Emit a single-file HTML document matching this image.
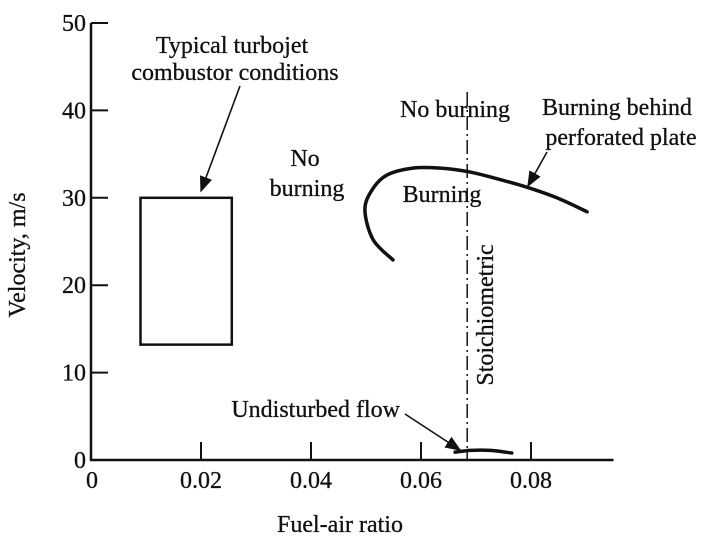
<!DOCTYPE html>
<html><head><meta charset="utf-8"><style>
body{margin:0;background:#fff;}
svg{display:block;font-family:"Liberation Serif",serif;}
text{fill:#111;font-size:24px;stroke:#111;stroke-width:0.3;}
</style></head><body>
<svg id="chart" width="722" height="542" viewBox="0 0 722 542">
<defs><marker id="ah" markerWidth="10" markerHeight="8" refX="9" refY="4" orient="auto"><path d="M0,0 L10,4 L0,8 z" fill="#111"/></marker></defs>
<g id="axes"></g><g id="marks"></g>
<g id="labels">
<text x="232" y="53" text-anchor="middle">Typical turbojet</text>
<text x="235" y="80" text-anchor="middle">combustor conditions</text>
<text x="305" y="166" text-anchor="middle">No</text>
<text x="307" y="196" text-anchor="middle">burning</text>
<text x="455" y="117" text-anchor="middle">No burning</text>
<text x="617" y="115" text-anchor="middle">Burning behind</text>
<text x="621" y="145" text-anchor="middle">perforated plate</text>
<text x="442" y="202" text-anchor="middle">Burning</text>
<text transform="translate(493,315) rotate(-90)" text-anchor="middle">Stoichiometric</text>
<text x="400" y="417" text-anchor="end">Undisturbed flow</text>
<text transform="translate(25,255) rotate(-90)" text-anchor="middle">Velocity, m/s</text>
<text x="340" y="532" text-anchor="middle">Fuel-air ratio</text>
</g>
</svg>
<script>
const xTicks=[0,0.02,0.04,0.06,0.08];
const xTickLabels=["0","0.02","0.04","0.06","0.08"];
const yTicks=[0,10,20,30,40,50];
const yTickLabels=["0","10","20","30","40","50"];
const boxFuel=[0.009,0.0256];
const boxVel=[13.2,30];
const burnFuel=[0.0549,0.0513,0.0498,0.0511,0.0538,0.0585,0.0635,0.0685,0.0731,0.0793,0.0847,0.0902];
const burnVel=[22.9,25.2,28.6,30.9,32.6,33.4,33.4,33.0,32.3,31.2,30.0,28.4];
const flowFuel=[0.0662,0.069,0.0726,0.0765];
const flowVel=[0.9,1.1,1.1,0.8];
const stoich=[0.0684];
const X=v=>91+v*5500, Y=v=>460-v*8.74;
const NS="http://www.w3.org/2000/svg";
const ax=document.getElementById('axes'), mk=document.getElementById('marks');
function el(p,tag,a){const e=document.createElementNS(NS,tag);for(const k in a)e.setAttribute(k,a[k]);p.appendChild(e);return e;}
let e;
e=el(ax,'path',{d:`M${X(0)},${Y(50)} V${Y(0)} H${X(0.095)}`,fill:'none',stroke:'#111','stroke-width':2.5});


xTicks.forEach((t,i)=>{
 if(i>0){e=el(ax,'line',{x1:X(t),x2:X(t),y1:Y(0),y2:Y(0)-18,stroke:'#111','stroke-width':2});
 
 }
 e=el(ax,'text',{x:X(t)+(i?0:1),y:488,'text-anchor':'middle'});e.textContent=xTickLabels[i];
 
 
});
yTicks.forEach((t,i)=>{
 if(i>0){e=el(ax,'line',{x1:X(0),x2:X(0)+17,y1:Y(t),y2:Y(t),stroke:'#111','stroke-width':2});
 
 }
 e=el(ax,'text',{x:X(0)-5,y:Y(t)+8,'text-anchor':'end'});e.textContent=yTickLabels[i];
 
 
});
e=el(mk,'rect',{x:X(boxFuel[0]),y:Y(boxVel[1]),width:X(boxFuel[1])-X(boxFuel[0]),height:Y(boxVel[0])-Y(boxVel[1]),fill:'none',stroke:'#111','stroke-width':2.5});


function smooth(xs,ys){const p=xs.map((x,i)=>[X(x),Y(ys[i])]);let d=`M${p[0]}`;for(let i=0;i<p.length-1;i++){const p0=p[i-1]||p[i],p1=p[i],p2=p[i+1],p3=p[i+2]||p2;d+=` C${p1[0]+(p2[0]-p0[0])/6},${p1[1]+(p2[1]-p0[1])/6} ${p2[0]-(p3[0]-p1[0])/6},${p2[1]-(p3[1]-p1[1])/6} ${p2[0]},${p2[1]}`;}return d;}
e=el(mk,'path',{d:smooth(burnFuel,burnVel),fill:'none',stroke:'#111','stroke-width':3.5,'stroke-linecap':'round'});


e=el(mk,'path',{d:smooth(flowFuel,flowVel),fill:'none',stroke:'#111','stroke-width':3.5,'stroke-linecap':'round'});


e=el(mk,'line',{x1:X(stoich[0]),x2:X(stoich[0]),y1:92,y2:Y(0),stroke:'#111','stroke-width':1.5,'stroke-dasharray':'14,4,2,4'});


[[240,86,201,191,'typical-arrow'],[547,152,528,186,'burning-behind-arrow'],[405,414,460,450,'undisturbed-arrow']].forEach(a=>{
 e=el(mk,'line',{x1:a[0],y1:a[1],x2:a[2],y2:a[3],stroke:'#111','stroke-width':1.6,'marker-end':'url(#ah)'});
 
 
});
</script>
</body></html>
